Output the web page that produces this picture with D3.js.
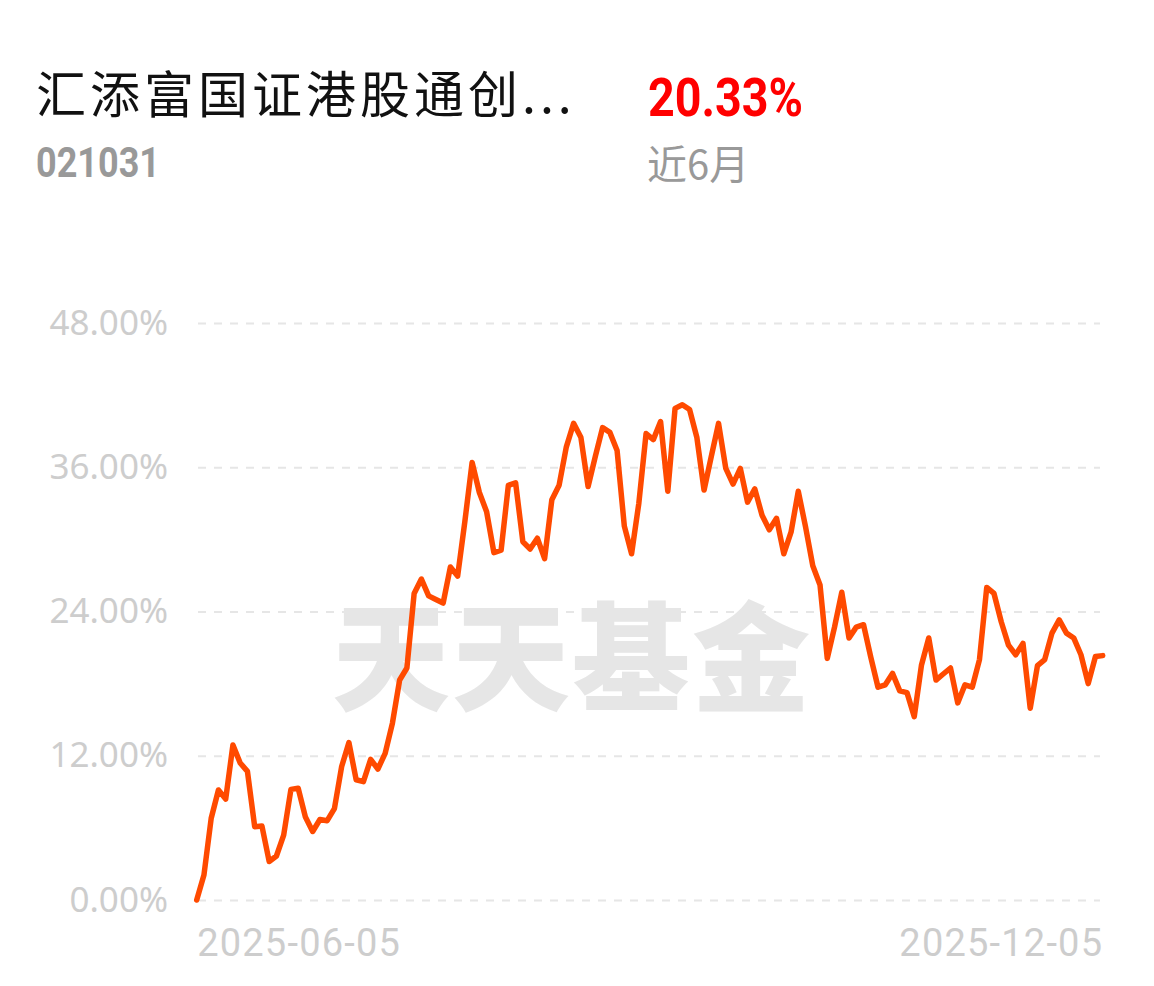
<!DOCTYPE html>
<html>
<head>
<meta charset="utf-8">
<script src="https://cdn.jsdelivr.net/npm/d3@7"></script>
<style>
  html, body { margin: 0; padding: 0; background: #fff; }
  svg { display: block; }
</style>
</head>
<body>
<div id="chart"></div>
<script>
// fund info
const fundName = '汇添富国证港股通创...';
const fundCode = '021031';
const periodReturn = '20.33%';
const periodLabel = '近6月';

// cumulative return (%) per trading day, 2025-06-05 .. 2025-12-05
const returns = [
    0, 2.08, 6.8, 9.15, 8.4, 12.9, 11.4, 10.7, 6.1, 6.15,
    3.2, 3.66, 5.4, 9.2, 9.3, 6.9, 5.7, 6.7, 6.6, 7.6,
    11.1, 13.1, 10.0, 9.85, 11.7, 10.9, 12.2, 14.7, 18.3, 19.3,
    25.5, 26.7, 25.3, 25.0, 24.7, 27.7, 26.95, 31.5, 36.4, 33.9,
    32.3, 28.9, 29.1, 34.5, 34.7, 29.8, 29.2, 30.1, 28.4, 33.3,
    34.5, 37.7, 39.65, 38.5, 34.4, 36.9, 39.3, 38.9, 37.4, 31.1,
    28.8, 33.0, 38.8, 38.3, 39.8, 34.0, 40.9, 41.2, 40.8, 38.5,
    34.1, 36.9, 39.65, 35.9, 34.6, 35.9, 33.1, 34.2, 32.0, 30.8,
    31.75, 28.8, 30.6, 34.0, 31.05, 27.8, 26.2, 20.1, 22.7, 25.6,
    21.8, 22.7, 22.9, 20.2, 17.7, 17.9, 18.85, 17.4, 17.25, 15.25,
    19.55, 21.8, 18.3, 18.8, 19.3, 16.4, 17.9, 17.7, 20.0, 26.0,
    25.5, 23.15, 21.2, 20.4, 21.35, 15.95, 19.5, 20.0, 22.2, 23.3,
    22.2, 21.8, 20.4, 18.0, 20.25, 20.33
];

const yTicks = [0, 12, 24, 36, 48];
const xTickLabels = ['2025-06-05', '2025-12-05'];

var width = 1154,
    height = 986;

var svg = d3.select("#chart").append("svg")
    .attr("width", width)
    .attr("height", height);

svg.append("rect").attr("width", width).attr("height", height).attr("fill", "#fff");

// header
svg.append("text")
    .attr("x", 36).attr("y", 113)
    .attr("font-family", "'Noto Sans CJK SC', sans-serif")
    .attr("font-size", 50)
    .attr("letter-spacing", 4)
    .attr("fill", "#111")
    .text(fundName);

svg.append("text")
    .attr("x", 36).attr("y", 177)
    .attr("font-family", "Roboto, sans-serif")
    .attr("font-weight", "bold")
    .attr("font-size", 42)
    .attr("textLength", 124)
    .attr("lengthAdjust", "spacingAndGlyphs")
    .attr("fill", "#999")
    .text(fundCode);

svg.append("text")
    .attr("x", 648).attr("y", 116)
    .attr("font-family", "Roboto, sans-serif")
    .attr("font-weight", "bold")
    .attr("font-size", 54)
    .attr("textLength", 155)
    .attr("lengthAdjust", "spacingAndGlyphs")
    .attr("fill", "#f00")
    .text(periodReturn);

svg.append("text")
    .attr("x", 647).attr("y", 179)
    .attr("font-family", "'Noto Sans CJK SC', sans-serif")
    .attr("font-size", 40)
    .attr("fill", "#999")
    .text(periodLabel);

// chart
var x = d3.scaleLinear()
    .domain([0, returns.length - 1])
    .range([196.7, 1102.7]);

var y = d3.scaleLinear()
    .domain([0, 48])
    .range([900, 323]);

// watermark
svg.append("text")
    .attr("x", 572).attr("y", 702)
    .attr("text-anchor", "middle")
    .attr("font-family", "'Noto Sans CJK SC', sans-serif")
    .attr("font-weight", 900)
    .attr("font-size", 118)
    .attr("letter-spacing", 2)
    .attr("fill", "#e6e6e6")
    .text("天天基金");

var gridLeft = 198, gridRight = 1100;

var yAxis = svg.append("g")
    .attr("transform", "translate(" + gridLeft + ",0)")
    .call(d3.axisLeft(y)
        .tickValues(yTicks)
        .tickSize(-(gridRight - gridLeft))
        .tickPadding(30)
        .tickFormat(d => d.toFixed(2) + '%'));

yAxis.select(".domain").remove();
yAxis.selectAll(".tick line")
    .attr("stroke", "#e6e6e6")
    .attr("stroke-width", 2)
    .attr("stroke-dasharray", "8,8");
yAxis.selectAll(".tick text")
    .attr("font-family", "'Noto Sans', sans-serif")
    .attr("font-size", 35)
    .attr("fill", "#cdcdcd");

var xAxis = svg.append("g")
    .attr("transform", "translate(0,900)")
    .call(d3.axisBottom(x)
        .tickValues([0, returns.length - 1])
        .tickSize(0)
        .tickPadding(29)
        .tickFormat((d, i) => xTickLabels[i]));

xAxis.select(".domain").remove();
xAxis.selectAll(".tick text")
    .attr("font-family", "Roboto, sans-serif")
    .attr("font-size", 38)
    .attr("letter-spacing", 1.2)
    .attr("fill", "#cdcdcd")
    .attr("text-anchor", (d, i) => i === 0 ? "start" : "end");

// line
var line = d3.line()
    .x((d, i) => x(i))
    .y(d => y(d));

svg.append("path")
    .datum(returns)
    .attr("d", line)
    .attr("fill", "none")
    .attr("stroke", "#ff4a00")
    .attr("stroke-width", 5.5)
    .attr("stroke-linejoin", "round")
    .attr("stroke-linecap", "round");
</script>
</body>
</html>
